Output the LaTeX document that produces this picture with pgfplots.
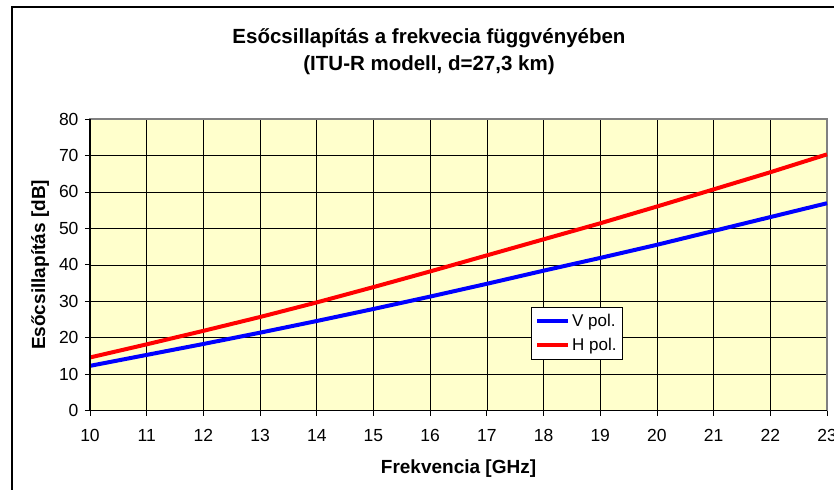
\documentclass[border=0pt]{standalone}
\usepackage{pgfplots}
\pgfplotsset{compat=1.18}
\usepackage{fontspec}
\setmainfont{Liberation Sans}
\definecolor{bgyellow}{RGB}{255,255,204}
\definecolor{vblue}{RGB}{0,0,255}
\definecolor{hred}{RGB}{255,0,0}
\begin{document}
\begin{tikzpicture}
\useasboundingbox (0,0) rectangle (834bp,490bp);
\fill[white] (0,0) rectangle (834bp,490bp);
\draw[line width=2bp] (12bp,0) -- (12bp,482.5bp) -- (834bp,482.5bp);
\node[font=\bfseries\fontsize{20.5bp}{24bp}\selectfont] at (429bp,452bp) {Esőcsillapítás a frekvecia függvényében};
\node[font=\bfseries\fontsize{20.5bp}{24bp}\selectfont] at (429bp,425bp) {(ITU-R modell, d=27,3 km)};
\begin{axis}[
  at={(90bp,79.3bp)}, anchor=south west,
  scale only axis, width=737bp, height=291.7bp,
  xmin=10, xmax=23, ymin=0, ymax=80,
  xtick={10,11,...,23}, ytick={0,10,...,80},
  xtick pos=bottom, ytick pos=left,
  tick align=outside, major tick length=5bp,
  tick style={black, line width=0.8bp},
  grid=major, grid style={black, line width=0.7bp},
  axis background/.style={fill=bgyellow},
  axis line style={draw=gray, line width=1.5bp},
  /pgf/number format/assume math mode=true,
  ticklabel style={font=\fontsize{17.5bp}{20bp}\selectfont},
  xticklabel style={yshift=-10bp},
  yticklabel style={xshift=-3bp},
  xlabel={Frekvencia [GHz]},
  ylabel={Esőcsillapítás [dB]},
  label style={font=\bfseries\fontsize{19bp}{22bp}\selectfont},
  xlabel style={at={(ticklabel cs:0.5)}, yshift=-11bp},
  ylabel style={yshift=3bp},
  legend cell align=left,
  legend style={at={(rel axis cs:0.598,0.3555)}, anchor=north west,
    draw=black, fill=white, line width=0.8bp,
    font=\fontsize{17bp}{20bp}\selectfont,
    row sep=6bp, inner xsep=4bp, inner ysep=5bp},
  legend image code/.code={\draw[#1, line width=4bp] (0bp,0bp) -- (31bp,0bp);},
  clip=false,
]
\addplot[vblue, line width=4bp] coordinates {
(10,12.3) (11,15.3) (12,18.3) (13,21.4) (14,24.6) (15,27.9) (16,31.3) (17,34.8) (18,38.4) (19,41.9) (20,45.5) (21,49.3) (22,53.1) (23,56.9)};
\addlegendentry{V pol.}
\addplot[hred, line width=4bp] coordinates {
(10,14.6) (11,18.2) (12,21.9) (13,25.7) (14,29.7) (15,33.9) (16,38.2) (17,42.6) (18,47.0) (19,51.4) (20,56.0) (21,60.7) (22,65.4) (23,70.3)};
\addlegendentry{H pol.}
\draw[black, line width=1.2bp] (axis cs:10,80) -- (axis cs:10,0) -- (axis cs:23,0);
\end{axis}
\end{tikzpicture}
\end{document}
